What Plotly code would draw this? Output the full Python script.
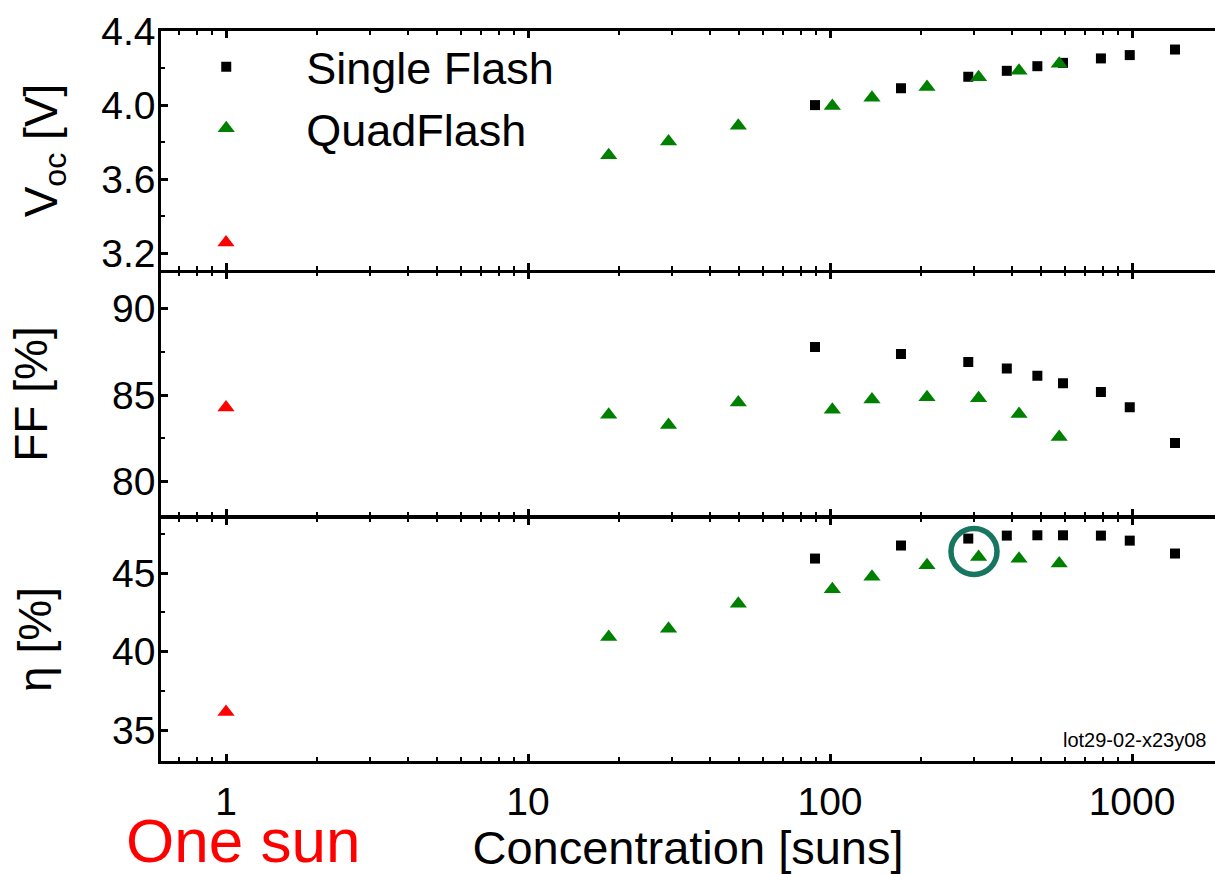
import math
import plotly.graph_objects as go
from plotly.subplots import make_subplots

# ---------------- data ----------------
single_x = [89.2, 171.8, 287, 385, 486, 591, 789, 983, 1388]
single_voc = [4.000, 4.091, 4.153, 4.185, 4.210, 4.228, 4.252, 4.270, 4.300]
single_ff = [87.78, 87.37, 86.91, 86.53, 86.11, 85.68, 85.17, 84.29, 82.23]
single_eta = [45.92, 46.75, 47.19, 47.38, 47.40, 47.40, 47.38, 47.06, 46.24]

quad_x = [18.5, 29.2, 49.7, 101.8, 137.7, 209.5, 310.5, 422.6, 574]
quad_voc = [3.730, 3.803, 3.889, 3.995, 4.040, 4.098, 4.150, 4.186, 4.223]
quad_ff = [83.86, 83.27, 84.57, 84.15, 84.74, 84.87, 84.81, 83.90, 82.58]
quad_eta = [40.93, 41.46, 43.04, 43.97, 44.77, 45.49, 46.02, 45.91, 45.60]

onesun_x = [1]
onesun_voc = [3.259]
onesun_ff = [84.28]
onesun_eta = [36.16]

highlight_index = 6  # QuadFlash point circled in the efficiency panel

x_tickvals = [1, 10, 100, 1000]
x_ticktext = ["1", "10", "100", "1000"]
x_minor = [0.7, 0.8, 0.9] + [k * 10 ** n for n in range(0, 4) for k in range(2, 10)]

# ---------------- styling ----------------
FONT = "Arial, 'Liberation Sans', sans-serif"
BLACK = "#000000"
GREEN = "#008000"
RED = "#FF0000"
TEAL = "#17765F"

fig = make_subplots(rows=3, cols=1, shared_xaxes=True, vertical_spacing=0)

series = [
    (single_voc, quad_voc, onesun_voc),
    (single_ff, quad_ff, onesun_ff),
    (single_eta, quad_eta, onesun_eta),
]
for i, (s, q, o) in enumerate(series, start=1):
    fig.add_trace(go.Scatter(
        x=single_x, y=s, mode="markers", name="Single Flash",
        marker=dict(symbol="square", size=10, color=BLACK),
        showlegend=(i == 1)), row=i, col=1)
    fig.add_trace(go.Scatter(
        x=quad_x, y=q, mode="markers", name="QuadFlash",
        marker=dict(symbol="triangle-up", size=15, color=GREEN),
        showlegend=(i == 1)), row=i, col=1)
    fig.add_trace(go.Scatter(
        x=onesun_x, y=o, mode="markers", name="One sun",
        marker=dict(symbol="triangle-up", size=15, color=RED),
        showlegend=False), row=i, col=1)

LW = 2.5
tick_common = dict(ticks="inside", ticklen=7, tickwidth=2.5, tickcolor=BLACK,
                   showgrid=False, zeroline=False)
axis_common = dict(showline=True, linecolor=BLACK, linewidth=LW,
                   tickfont=dict(family=FONT, size=39, color=BLACK), **tick_common)
minor_common = dict(ticks="inside", ticklen=4, tickwidth=2, tickcolor=BLACK, showgrid=False)

# plot area: left 161 px, right 1215 px; 1 decade = 302 px, x=1 at 226 px
xrange = [(161 - 226) / 302, (1215 - 226) / 302]
for i in range(1, 4):
    fig.update_xaxes(
        type="log", range=xrange, tickvals=x_tickvals, ticktext=x_ticktext, mirror="ticks",
        minor=dict(tickvals=x_minor, **minor_common),
        showticklabels=(i == 3), ticklabelstandoff=4, **axis_common, row=i, col=1)

fig.update_xaxes(title=dict(text="Concentration [suns]", font=dict(family=FONT, size=47, color=BLACK),
                            standoff=18), row=3, col=1)

# panel geometry: plot area from y=31 to y=761 (730 px); a gap of one line width
# between panels so the two facing axis lines merge into one
H = 730.0
def frac(py):
    return (761 - py) / H

ttl = dict(family=FONT, size=46, color=BLACK)
panels = [
    dict(domain=[frac(270), 1.0], range=[3.11, 4.4], tick0=3.2, dtick=0.4, minor_dtick=0.2,
         title="V<sub>oc</sub> [V]", standoff=30),
    dict(domain=[frac(515.5), frac(272.5)], range=[78.04, 92.08], tick0=80, dtick=5, minor_dtick=2.5,
         title="FF [%]", standoff=50),
    dict(domain=[0.0, frac(518)], range=[33.04, 48.5], tick0=35, dtick=5, minor_dtick=2.5,
         title="η [%]", standoff=46),
]
for i, p in enumerate(panels, start=1):
    fig.update_yaxes(domain=p["domain"], range=p["range"], tick0=p["tick0"], dtick=p["dtick"],
                     tickformat=".1f" if i == 1 else None, mirror=False,
                     minor=dict(dtick=p["minor_dtick"], **minor_common), ticklabelstandoff=-5,
                     title=dict(text=p["title"], font=ttl, standoff=p["standoff"]),
                     **axis_common, row=i, col=1)

# right-hand tick marks (no axis line on the right edge in the reference)
for i, p in enumerate(panels, start=1):
    main = "y" if i == 1 else f"y{i}"
    xname = "x" if i == 1 else f"x{i}"
    fig.layout[f"yaxis{i + 3}"] = dict(
        overlaying=main, anchor=xname, side="right", range=p["range"],
        tick0=p["tick0"], dtick=p["dtick"], showline=False, showticklabels=False,
        minor=dict(dtick=p["minor_dtick"], **minor_common), **tick_common)

# circle around the highlighted QuadFlash efficiency point
hx = (math.log10(quad_x[highlight_index]) - xrange[0]) / (xrange[1] - xrange[0])
fig.add_shape(
    type="circle", xref="x3 domain", yref="y3", xsizemode="pixel", ysizemode="pixel",
    xanchor=hx, yanchor=quad_eta[highlight_index],
    x0=-4.6 - 23, x1=-4.6 + 23, y0=5.5 - 23, y1=5.5 + 23,
    line=dict(color=TEAL, width=5.5))

fig.add_annotation(text="One sun", xref="paper", yref="paper", x=(243 - 161) / 1054, y=frac(803),
                   xanchor="center", yanchor="top", yshift=-1, showarrow=False,
                   font=dict(family=FONT, size=62, color=RED))
fig.add_annotation(text="lot29-02-x23y08", xref="paper", yref="paper", x=(1208 - 161) / 1054, y=frac(740),
                   xanchor="right", yanchor="middle", showarrow=False,
                   font=dict(family=FONT, size=20, color=BLACK))

fig.update_layout(
    width=1215, height=874,
    margin=dict(l=161, r=0, t=31, b=113),
    paper_bgcolor="white", plot_bgcolor="white",
    font=dict(family=FONT, color=BLACK),
    legend=dict(x=-0.014, y=1.0, xanchor="left", yanchor="top",
                font=dict(family=FONT, size=45, color=BLACK),
                bgcolor="rgba(0,0,0,0)", itemwidth=150, tracegroupgap=0),
    showlegend=True,
)

fig.write_html("out.html", config={"displayModeBar": False},
               post_script="document.body.style.margin='0px';document.body.style.overflow='hidden';")
